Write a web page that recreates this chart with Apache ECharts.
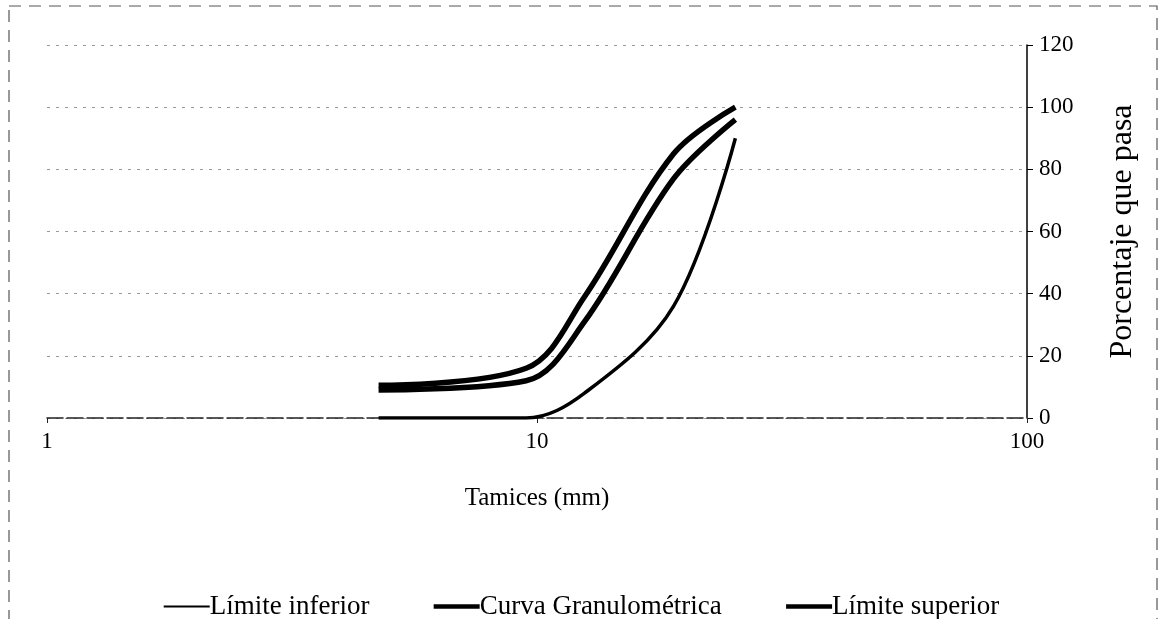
<!DOCTYPE html>
<html>
<head>
<meta charset="utf-8">
<script src="https://cdn.jsdelivr.net/npm/echarts@6/dist/echarts.min.js"></script>
<style>
  html, body { margin: 0; padding: 0; background: #fff; }
  #Curva { width: 1162px; height: 619px; }
</style>
</head>
<body>
<div id="Curva"></div>
<script>
// tamices (mm) y porcentajes que pasa
var tamices = [4.75, 9.5, 12.5, 19, 25.4];
var limiteInferior = [0, 0, 8, 36, 90];
var curvaGranulometrica = [9, 12, 31, 77, 96];
var limiteSuperior = [10.5, 16, 39, 85, 100];
var nombres = ['Límite inferior', 'Curva Granulométrica', 'Límite superior'];
var yTicks = [0, 20, 40, 60, 80, 100, 120];

var fuente = '"Liberation Serif", "DejaVu Serif", serif';

function pares(xs, ys) {
    var out = [];
    for (var i = 0; i < xs.length; i++) {
        out.push([xs[i], ys[i]]);
    }
    return out;
}

function serie(nombre, valores, ancho) {
    return {
        name: nombre,
        type: 'line',
        smooth: 0.35,
        symbol: 'none',
        lineStyle: { color: '#000', width: ancho },
        itemStyle: { color: '#000' },
        data: pares(tamices, valores)
    };
}

var myChart = echarts.init(document.getElementById('Curva'));
var option = {
    animation: false,
    backgroundColor: '#fff',
    grid: { left: 47, right: 135, top: 45, bottom: 201 },
    graphic: [{
        type: 'rect',
        shape: { x: 9, y: 6, width: 1148, height: 660 },
        style: { fill: 'none', stroke: '#555', lineWidth: 1.2, lineDash: [12, 8] },
        silent: true
    }],
    legend: {
        data: [
            { name: nombres[0], lineStyle: { width: 2 } },
            { name: nombres[1], lineStyle: { width: 4.5 } },
            { name: nombres[2], lineStyle: { width: 4.5 } }
        ],
        top: 588,
        left: 'center',
        itemWidth: 46,
        itemHeight: 14,
        itemGap: 62,
        itemStyle: { opacity: 0 },
        textStyle: { fontFamily: fuente, fontSize: 27, color: '#000', padding: [0, 0, 0, -5] }
    },
    xAxis: {
        type: 'log',
        logBase: 10,
        min: 1,
        max: 100,
        name: 'Tamices (mm)',
        nameLocation: 'middle',
        nameGap: 68,
        nameTextStyle: { fontFamily: fuente, fontSize: 25, color: '#000' },
        axisLine: { lineStyle: { color: '#222', width: 1.5, type: [16, 4] } },
        axisTick: { show: true, length: 5, lineStyle: { color: '#222' } },
        axisLabel: { fontFamily: fuente, fontSize: 23, color: '#000', margin: 12 },
        splitLine: { show: false },
        minorTick: { show: false }
    },
    yAxis: {
        type: 'value',
        position: 'right',
        min: yTicks[0],
        max: yTicks[yTicks.length - 1],
        interval: 20,
        name: 'Porcentaje que pasa',
        nameLocation: 'middle',
        nameRotate: 90,
        nameGap: 80,
        nameTextStyle: { fontFamily: fuente, fontSize: 32, color: '#000' },
        axisLine: { show: true, lineStyle: { color: '#000', width: 1.5 } },
        axisTick: { show: true, length: 6, lineStyle: { color: '#000' } },
        axisLabel: { fontFamily: fuente, fontSize: 23, color: '#000', margin: 12 },
        splitLine: { show: true, lineStyle: { color: '#999', type: [3, 6], width: 1 } }
    },
    series: [
        serie(nombres[0], limiteInferior, 3.5),
        serie(nombres[1], curvaGranulometrica, 5.5),
        serie(nombres[2], limiteSuperior, 5.5)
    ]
};
myChart.setOption(option);
</script>
</body>
</html>
